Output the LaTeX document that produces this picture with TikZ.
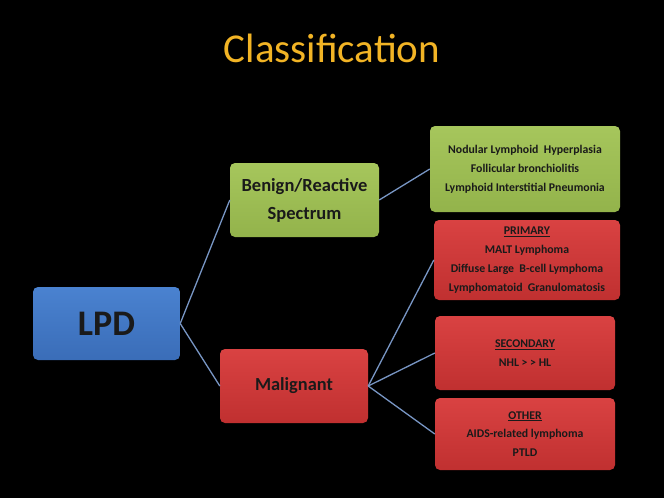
\documentclass[tikz,border=0pt]{standalone}
\usepackage{fontspec}
\setmainfont{Carlito}
\definecolor{titleyellow}{HTML}{F2B425}
\definecolor{lpdblue}{HTML}{4A82D0}
\definecolor{lpdblued}{HTML}{3A6DB8}
\definecolor{bgreen}{HTML}{A6C65C}
\definecolor{bgreend}{HTML}{93B34B}
\definecolor{mred}{HTML}{D94242}
\definecolor{mredd}{HTML}{C03030}
\definecolor{linkc}{HTML}{7896C4}
\definecolor{txtc}{HTML}{1A1A1A}
\tikzset{
  box/.style={rounded corners=5pt, draw=none, inner sep=0pt, align=center, text=txtc, font=\bfseries},
  bluebox/.style={box, top color=lpdblue, bottom color=lpdblued},
  greenbox/.style={box, top color=bgreen, bottom color=bgreend},
  redbox/.style={box, top color=mred, bottom color=mredd},
  small/.style={font=\bfseries\fontsize{11.8}{18.8}\selectfont},
  link/.style={draw=linkc, line width=1.3pt}
}
\begin{document}
\begin{tikzpicture}[x=1pt,y=-1pt]
\fill[black] (0,0) rectangle (664,498);
\useasboundingbox (0,0) rectangle (664,498);
\node[text=titleyellow, font=\fontsize{41}{46}\selectfont] (title) at (332,48) {Classification};
\node[bluebox, minimum width=147pt, minimum height=73pt, font=\bfseries\fontsize{36}{40}\selectfont] (lpd) at (106.5,323.5) {LPD};
\node[greenbox, minimum width=149pt, minimum height=74pt, font=\bfseries\fontsize{18.5}{28}\selectfont] (ben) at (304.5,200) {Benign/Reactive\\Spectrum};
\node[redbox, minimum width=148pt, minimum height=74pt, font=\bfseries\fontsize{18.4}{22}\selectfont] (mal) at (294,386) {Malignant};
\node[greenbox, small, minimum width=190pt, minimum height=86pt] (nod) at (525,169) {Nodular Lymphoid \ Hyperplasia\\Follicular bronchiolitis\\Lymphoid Interstitial Pneumonia};
\node[redbox, small, minimum width=186pt, minimum height=80pt] (pri) at (527,260) {\underline{PRIMARY}\\MALT Lymphoma\\Diffuse Large \ B-cell Lymphoma\\Lymphomatoid \ Granulomatosis};
\node[redbox, small, minimum width=180pt, minimum height=74pt] (sec) at (525,353) {\underline{SECONDARY}\\NHL > > HL};
\node[redbox, small, minimum width=180pt, minimum height=72pt] (oth) at (525,434) {\underline{OTHER}\\AIDS-related lymphoma\\PTLD};
\draw[link] (lpd.east) -- (ben.west);
\draw[link] (lpd.east) -- (mal.west);
\draw[link] (ben.east) -- (nod.west);
\draw[link] (mal.east) -- (pri.west);
\draw[link] (mal.east) -- (sec.west);
\draw[link] (mal.east) -- (oth.west);
\end{tikzpicture}
\end{document}
